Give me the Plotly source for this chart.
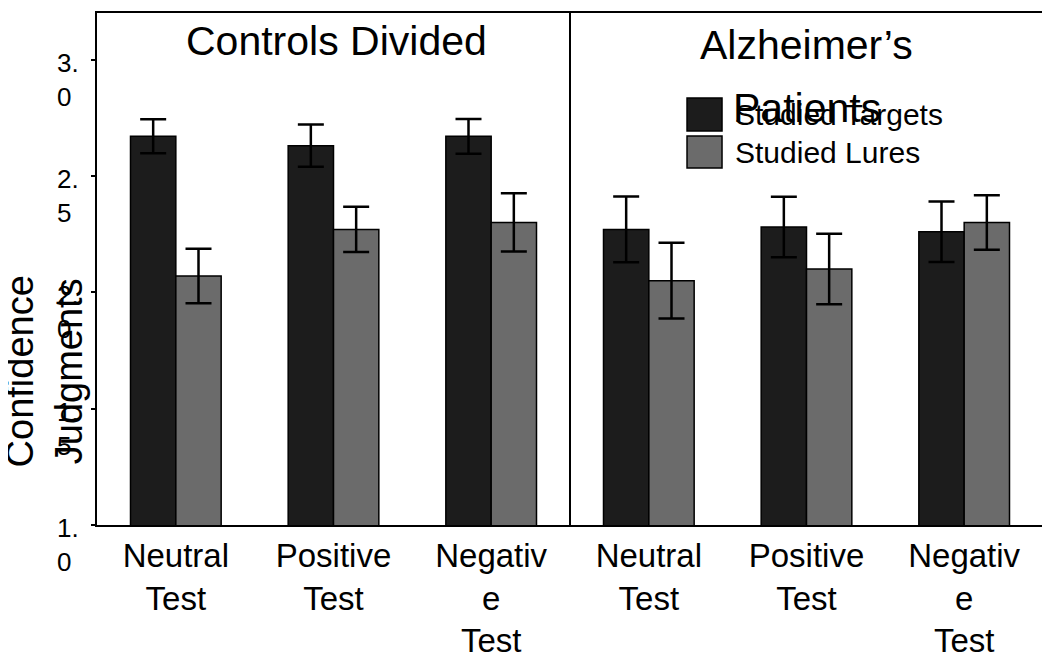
import plotly.graph_objects as go

# condition labels (one per bar group)
conditions = ["Neutral<br>Test", "Positive<br>Test", "Negativ<br>e<br>Test",
              "Neutral<br>Test", "Positive<br>Test", "Negativ<br>e<br>Test"]
groups = [0, 1, 2, 3, 4, 5]

# mean confidence judgments
targets = [2.67, 2.63, 2.67, 2.27, 2.28, 2.26]
targets_err = [0.073, 0.091, 0.075, 0.141, 0.13, 0.13]
lures = [2.07, 2.27, 2.30, 2.05, 2.10, 2.30]
lures_err = [0.117, 0.097, 0.125, 0.163, 0.152, 0.117]

y_ticks = [1.0, 1.5, 2.0, 2.5, 3.0]
y_ticktext = ["1.<br>0&nbsp;", "1.<br>5&nbsp;", "2.<br>0&nbsp;", "2.<br>5&nbsp;", "3.<br>0&nbsp;"]

FONT = "Liberation Sans, Arial, sans-serif"
DARK = "#1c1c1c"
GREY = "#6b6b6b"

fig = go.Figure()

fig.add_trace(go.Bar(
    x=groups, y=targets, name="Studied Targets",
    marker=dict(color=DARK, line=dict(color="black", width=1.5)),
    error_y=dict(type="data", array=targets_err, color="black", thickness=2.5, width=13),
    showlegend=False,
))
fig.add_trace(go.Bar(
    x=groups, y=lures, name="Studied Lures",
    marker=dict(color=GREY, line=dict(color="black", width=1.5)),
    error_y=dict(type="data", array=lures_err, color="black", thickness=2.5, width=13),
    showlegend=False,
))

# divider between the two panels
fig.add_shape(type="line", xref="x", yref="paper", x0=2.5, x1=2.5, y0=0, y1=1,
              line=dict(color="black", width=2))

# hand-made legend with big swatches
fig.add_shape(type="rect", xref="paper", yref="paper", x0=0.6237, x1=0.6607, y0=0.7695, y1=0.834,
              fillcolor=DARK, line=dict(color="black", width=1.5))
fig.add_shape(type="rect", xref="paper", yref="paper", x0=0.6237, x1=0.6607, y0=0.6973, y1=0.7598,
              fillcolor=GREY, line=dict(color="black", width=1.5))

annots = [
    dict(text="Controls Divided", x=0.2534, y=0.945, font_size=41, xanchor="center"),
    dict(text="Alzheimer\u2019s", x=0.750, y=0.937, font_size=41, xanchor="center"),
    dict(text="Patients", x=0.750, y=0.814, font_size=41, xanchor="center"),
    dict(text="Studied Targets", x=0.672, y=0.801, font_size=30, xanchor="left"),
    dict(text="Studied Lures", x=0.672, y=0.7285, font_size=30, xanchor="left"),
    dict(text="Confidence<br>Judgments", x=-0.056, y=0.30, font_size=38, xanchor="center",
         textangle=-90),
]
for a in annots:
    fig.add_annotation(xref="paper", yref="paper", showarrow=False, yanchor="middle",
                       font=dict(family=FONT, color="black", size=a.pop("font_size")), **a)

# page body has an 8px margin, so the margins below are offset to compensate
fig.update_layout(
    barmode="group",
    bargap=0.425,
    bargroupgap=0,
    width=1050,
    height=659,
    margin=dict(l=89, r=15, t=5, b=142),
    paper_bgcolor="white",
    plot_bgcolor="white",
    font=dict(family=FONT, color="black"),
    xaxis=dict(
        range=[-0.5, 5.5],
        tickvals=groups,
        ticktext=conditions,
        tickfont=dict(size=33),
        automargin=False,
        showgrid=False,
        zeroline=False,
        showline=True,
        mirror=True,
        linecolor="black",
        linewidth=2,
        ticks="",
    ),
    yaxis=dict(
        range=[1.0, 3.2],
        tickvals=y_ticks,
        ticktext=y_ticktext,
        tickfont=dict(size=26),
        ticklabelshift=20,
        ticklabelstandoff=7,
        automargin=False,
        showgrid=False,
        zeroline=False,
        showline=True,
        mirror=True,
        linecolor="black",
        linewidth=2,
        ticks="outside",
        ticklen=4,
        tickwidth=2,
        tickcolor="black",
    ),
)

fig.write_html("out.html")
